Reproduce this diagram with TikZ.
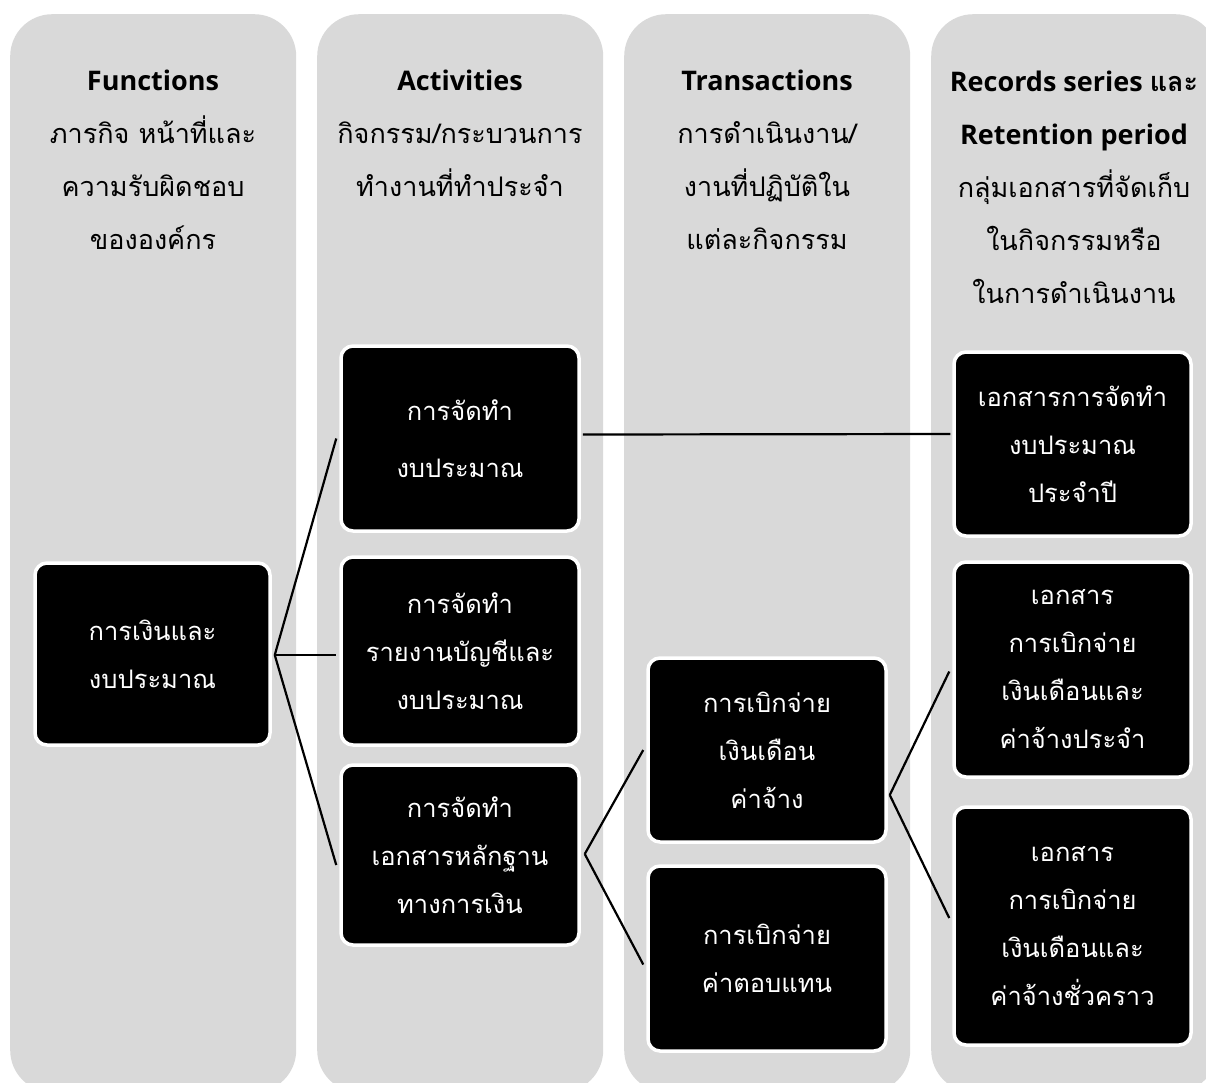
\documentclass[tikz,border=0pt]{standalone}
\usepackage{fontspec}
\setmainfont{Open Sans}
\newfontfamily\thai[Script=Thai]{Loma}
\usetikzlibrary{calc}
\definecolor{colgray}{HTML}{D9D9D9}
\begin{document}
\begin{tikzpicture}[x=1pt,y=-1pt,
  colbox/.style={fill=colgray, draw=none, rounded corners=42pt, minimum width=286pt, minimum height=1078pt, anchor=north west, inner sep=0pt},
  box/.style={fill=black, draw=white, line width=3.5pt, rounded corners=12pt, text=white, align=center, inner sep=0pt, font=\thai\fontsize{25.5}{48}\selectfont},
  hdr/.style={align=center, text=black, inner sep=0pt, font=\fontsize{27}{53}\selectfont},
  conn/.style={line width=2.2pt, draw=black}]
\useasboundingbox (0,0) rectangle (1206,1082);
% columns
\node[colbox] (c1) at (10,14) {};
\node[colbox] (c2) at (317,14) {};
\node[colbox] (c3) at (624,14) {};
\node[colbox] (c4) at (931,14) {};
% headers
\node[hdr] (h1) at (153,160) {\textbf{Functions}\\ {\thai ภารกิจ หน้าที่และ}\\ {\thai ความรับผิดชอบ}\\ {\thai ขององค์กร}};
\node[hdr] (h2) at (460,133) {\textbf{Activities}\\ {\thai กิจกรรม/กระบวนการ}\\ {\thai ทำงานที่ทำประจำ}};
\node[hdr] (h3) at (767,160) {\textbf{Transactions}\\ {\thai การดำเนินงาน/}\\ {\thai งานที่ปฏิบัติใน}\\ {\thai แต่ละกิจกรรม}};
\node[hdr] (h4) at (1074,187) {\textbf{Records series {\thai และ}}\\ \textbf{Retention period}\\ {\thai กลุ่มเอกสารที่จัดเก็บ}\\ {\thai ในกิจกรรมหรือ}\\ {\thai ในการดำเนินงาน}};
% boxes
\node[box, minimum width=235pt, minimum height=182pt] (f1) at (152.5,654) {การเงินและ\\ งบประมาณ};
\node[box, minimum width=238pt, minimum height=185pt, font=\thai\fontsize{25.5}{57}\selectfont] (a1) at (460,438.5) {การจัดทำ\\ งบประมาณ};
\node[box, minimum width=238pt, minimum height=188pt] (a2) at (460,651) {การจัดทำ\\ รายงานบัญชีและ\\ งบประมาณ};
\node[box, minimum width=238pt, minimum height=180pt] (a3) at (460,855) {การจัดทำ\\ เอกสารหลักฐาน\\ ทางการเงิน};
\node[box, minimum width=238pt, minimum height=184pt] (t1) at (767,750) {การเบิกจ่าย\\ เงินเดือน\\ ค่าจ้าง};
\node[box, minimum width=238pt, minimum height=185pt] (t2) at (767,958.5) {การเบิกจ่าย\\ ค่าตอบแทน};
\node[box, minimum width=237pt, minimum height=184pt] (r1) at (1072.5,444) {เอกสารการจัดทำ\\ งบประมาณ\\ ประจำปี};
\node[box, minimum width=237pt, minimum height=215pt] (r2) at (1072.5,669.5) {เอกสาร\\ การเบิกจ่าย\\ เงินเดือนและ\\ ค่าจ้างประจำ};
\node[box, minimum width=237pt, minimum height=238pt] (r3) at (1072.5,926) {เอกสาร\\ การเบิกจ่าย\\ เงินเดือนและ\\ ค่าจ้างชั่วคราว};
% connectors
\coordinate (fa) at ($(f1.east)+(3,1)$);
\draw[conn] (fa) -- ($(a1.west)+(-3,0)$);
\draw[conn] (fa) -- ($(a2.west)+(-3,4)$);
\draw[conn] (fa) -- ($(a3.west)+(-3,10)$);
\draw[conn] ($(a1.east)+(2,-4)$) -- ($(r1.west)+(-2,-10)$);
\coordinate (at) at ($(a3.east)+(4,-1)$);
\draw[conn] (at) -- ($(t1.west)+(-3,0)$);
\draw[conn] (at) -- ($(t2.west)+(-3,6)$);
\coordinate (tr) at ($(t1.east)+(2,45)$);
\draw[conn] (tr) -- ($(r2.west)+(-3,2)$);
\draw[conn] (tr) -- ($(r3.west)+(-3,-8)$);
\end{tikzpicture}
\end{document}
